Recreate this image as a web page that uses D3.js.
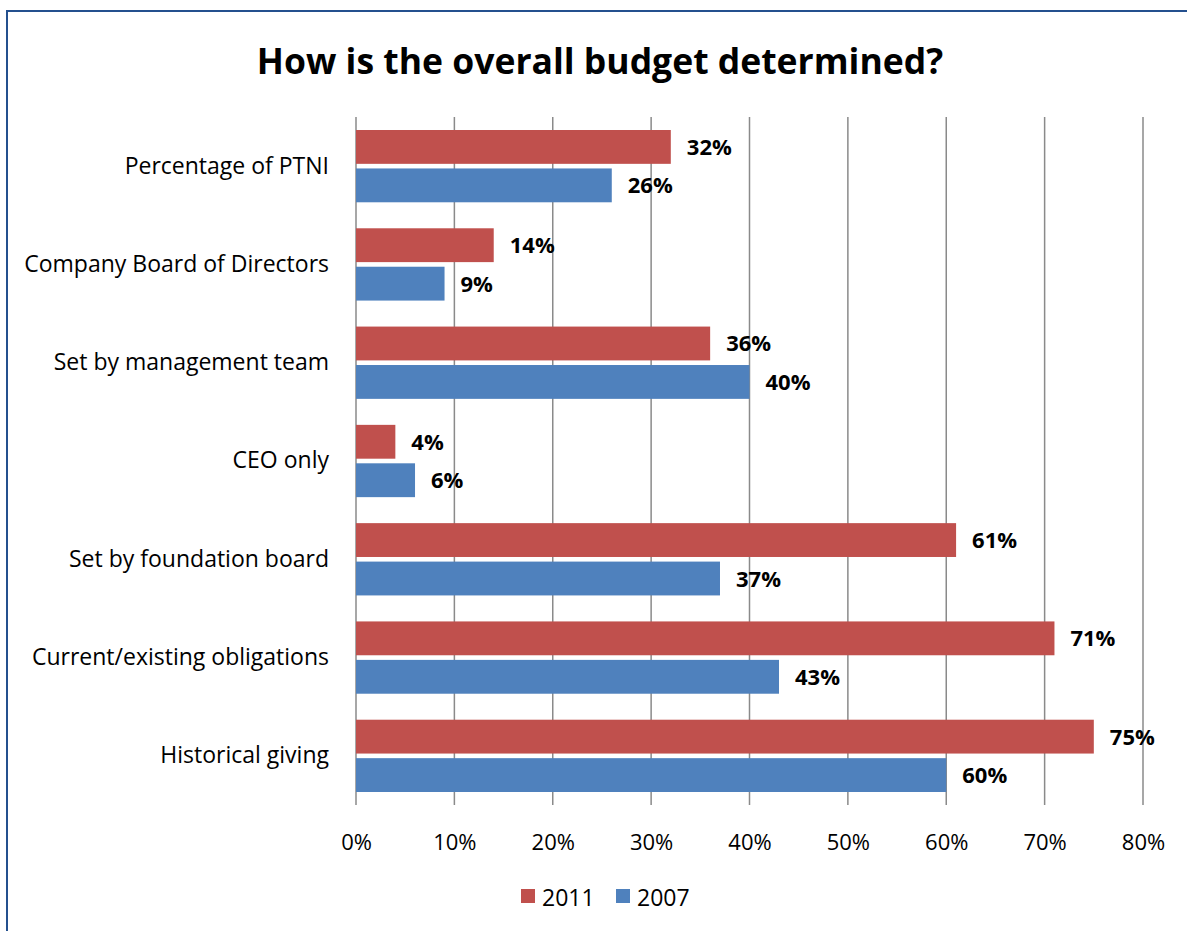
<!DOCTYPE html>
<html>
<head>
<meta charset="utf-8">
<script src="https://cdn.jsdelivr.net/npm/d3@7"></script>
<style>
  html, body { margin: 0; padding: 0; background: #fff; }
  svg { display: block; }
  text { font-family: "Open Sans", sans-serif; fill: #000; }
</style>
</head>
<body>
<div id="chart"></div>
<script>
// Survey responses: how the overall giving budget is determined
const categories = [
  "Percentage of PTNI",
  "Company Board of Directors",
  "Set by management team",
  "CEO only",
  "Set by foundation board",
  "Current/existing obligations",
  "Historical giving"
];
const values2011 = [32, 14, 36, 4, 61, 71, 75];
const values2007 = [26, 9, 40, 6, 37, 43, 60];
const seriesNames = ["2011", "2007"];
const seriesColors = ["#C0504D", "#4F81BD"];
const xTicks = [0, 10, 20, 30, 40, 50, 60, 70, 80];

const W = 1187, H = 931;
const plot = { left: 356, right: 1143, top: 117, bottom: 805 };
const FONT = "'Open Sans', sans-serif";

const svg = d3.select("#chart").append("svg")
  .attr("width", W).attr("height", H);

// chart frame
svg.append("rect")
  .attr("x", 7).attr("y", 11)
  .attr("width", W + 20).attr("height", H + 20)
  .attr("fill", "#fff")
  .attr("stroke", "#24508E").attr("stroke-width", 2);

// title
svg.append("text")
  .attr("x", 600).attr("y", 60)
  .attr("text-anchor", "middle").attr("dominant-baseline", "central")
  .style("font-size", "35.5px").style("font-weight", "bold")
  .text("How is the overall budget determined?");

const x = d3.scaleLinear().domain([0, 80]).range([plot.left, plot.right]);
const y = d3.scaleBand().domain(categories).range([plot.top, plot.bottom])
  .paddingInner(26 / 98.3).paddingOuter(13 / 98.3);

// vertical gridlines
svg.append("g").selectAll("line").data(xTicks).join("line")
  .attr("x1", d => x(d)).attr("x2", d => x(d))
  .attr("y1", plot.top).attr("y2", plot.bottom)
  .attr("stroke", "#8A8A8A").attr("stroke-width", 1.5);

// x axis labels
const xAxis = d3.axisBottom(x).tickValues(xTicks)
  .tickFormat(d => d + "%").tickSize(0).tickPadding(29);
const gx = svg.append("g").attr("transform", `translate(0,${plot.bottom})`).call(xAxis);
gx.select(".domain").remove();
gx.selectAll("text").style("font-size", "22px").style("font-family", FONT);

// category labels
const yAxis = d3.axisLeft(y).tickSize(0).tickPadding(27);
const gy = svg.append("g").attr("transform", `translate(${plot.left},0)`).call(yAxis);
gy.select(".domain").remove();
gy.selectAll("text").style("font-size", "23px").style("font-family", FONT);

// bars
const sub = d3.scaleBand().domain(seriesNames).range([0, y.bandwidth()]).paddingInner(0.12);
const series = [values2011, values2007];
series.forEach((vals, si) => {
  const g = svg.append("g");
  const rows = categories.map((c, i) => ({ c, v: vals[i] }));
  g.selectAll("rect").data(rows).join("rect")
    .attr("x", x(0))
    .attr("y", d => y(d.c) + sub(seriesNames[si]))
    .attr("width", d => x(d.v) - x(0))
    .attr("height", sub.bandwidth())
    .attr("fill", seriesColors[si]);
  g.selectAll("text").data(rows).join("text")
    .attr("x", d => x(d.v) + 16)
    .attr("y", d => y(d.c) + sub(seriesNames[si]) + sub.bandwidth() / 2 - 1)
    .attr("dominant-baseline", "central")
    .style("font-size", "22px").style("font-weight", "bold")
    .text(d => d.v + "%");
});

// legend
const legend = svg.append("g").attr("transform", "translate(521,896)");
const items = [{ n: "2011", x: 0 }, { n: "2007", x: 95 }];
items.forEach((it, i) => {
  legend.append("rect").attr("x", it.x).attr("y", -7).attr("width", 14).attr("height", 14)
    .attr("fill", seriesColors[i]);
  legend.append("text").attr("x", it.x + 21).attr("y", 1)
    .attr("dominant-baseline", "central")
    .style("font-size", "23px").text(it.n);
});
</script>
</body>
</html>
